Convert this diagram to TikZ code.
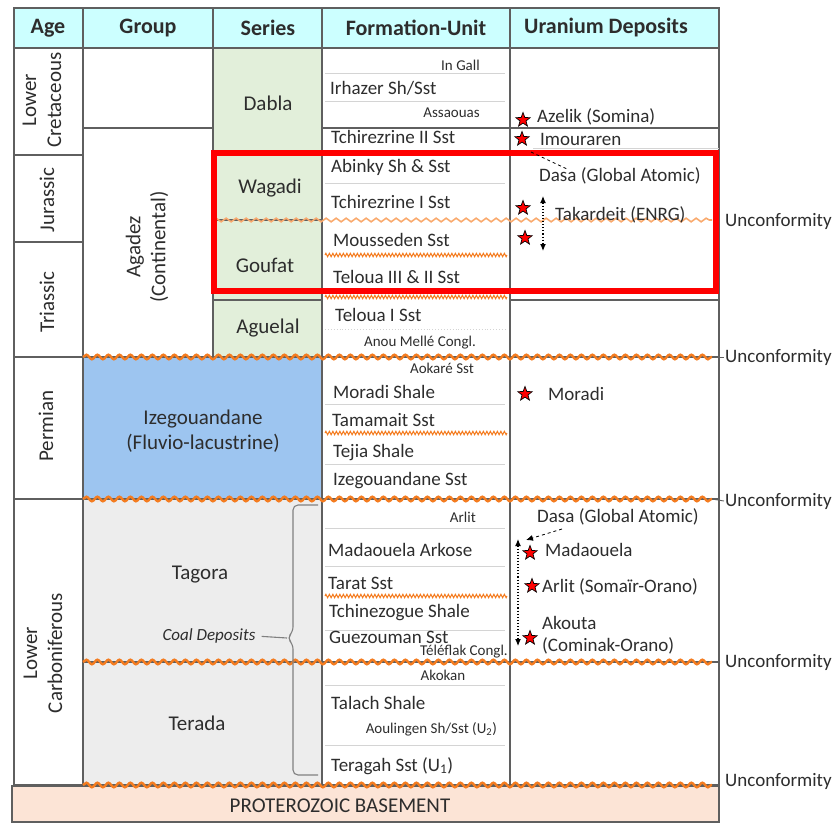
\documentclass[tikz,border=0pt]{standalone}
\usepackage{fontspec}
\setmainfont{Carlito}
\usetikzlibrary{shapes.geometric,arrows,arrows.meta,positioning,decorations.pathmorphing}
\definecolor{hdrcyan}{RGB}{204,255,255}
\definecolor{sergreen}{RGB}{226,239,218}
\definecolor{izeblue}{RGB}{157,197,240}
\definecolor{taggray}{RGB}{237,237,237}
\definecolor{basepeach}{RGB}{252,228,214}
\definecolor{uncorange}{RGB}{244,124,32}
\definecolor{unclight}{RGB}{249,170,110}
\definecolor{gridgray}{RGB}{95,95,95}
\definecolor{rowgray}{RGB}{212,212,212}
\definecolor{bracegray}{RGB}{128,128,128}
\definecolor{inkgray}{RGB}{45,45,45}

\tikzset{
  hdr/.style={font=\fontsize{22}{25}\selectfont\bfseries, inner sep=0pt, text=inkgray},
  big/.style={font=\fontsize{21}{25}\selectfont, inner sep=0pt, text=inkgray},
  reg/.style={font=\fontsize{19}{22}\selectfont, inner sep=0pt, text=inkgray},
  sml/.style={font=\fontsize{15}{17}\selectfont, inner sep=0pt, text=inkgray},
  grid/.style={draw=gridgray, line width=1.2pt},
  rowline/.style={draw=rowgray, line width=0.9pt},
  uncwave/.style={draw=uncorange, line width=2.4pt, decorate,
    decoration={snake, segment length=11pt, amplitude=2.3pt}},
  uncthin/.style={draw=unclight, line width=1.6pt, decorate,
    decoration={snake, segment length=10pt, amplitude=1.8pt}},
  minorzz/.style={draw=uncorange, line width=1.1pt, decorate,
    decoration={zigzag, segment length=3.5pt, amplitude=1.6pt}},
  deposit/.style={star, star points=5, star point ratio=2.4, minimum size=15pt,
    inner sep=0pt, fill=red, draw=black, line width=0.7pt},
  dblarrow/.style={dotted, line width=1.1pt,
    {Latex[length=7pt,width=6pt]}-{Latex[length=7pt,width=6pt]}},
  onearrow/.style={dashed, line width=0.8pt, -{Latex[length=7pt,width=6pt]}},
}

\begin{document}
\begin{tikzpicture}[x=1pt,y=-1pt]
\useasboundingbox (0,0) rectangle (836,825);

\fill[hdrcyan] (14,8) rectangle (719,48);
\fill[sergreen] (213,48) rectangle (322,357);
\fill[izeblue] (83,357) rectangle (322,499);
\fill[taggray] (83,499) rectangle (322,785);
\filldraw[fill=basepeach, draw=gridgray, line width=1.2pt] (12,786) rectangle (719,822);

\draw[grid] (14,8) rectangle (719,785);
\draw[grid] (14,48) -- (719,48);
\foreach \x/\ya/\yb in {83/8/785, 213/8/357, 322/8/785, 510/8/785}
  \draw[grid] (\x,\ya) -- (\x,\yb);
\foreach \y/\xa/\xb in {155/14/83, 242/14/83, 357/14/719, 499/14/719, 128/83/213,
  128/322/719, 300/213/322, 300/510/719, 220/213/322, 662/83/719}
  \draw[grid] (\xa,\y) -- (\xb,\y);
\draw[rowline] (533,148) -- (719,148);
\foreach \y in {73,101,183,404,464,528,566,630,685,745}
  \draw[rowline] (325,\y) -- (505,\y);
\draw[rowline, dotted] (325,329) -- (505,329);

\foreach \y in {357,499,662,785}
  \draw[uncwave] (83,\y) -- (712,\y);
\draw[uncthin] (213,220) -- (712,220);
\foreach \y in {255,297,433,596}
  \draw[minorzz] (325,\y) -- (507,\y);

\draw[red, line width=6.5pt] (214,153) rectangle (716,291);

\node[hdr] (hAge) at (48,28) {Age};
\node[hdr] (hGroup) at (148,28) {Group};
\node[hdr] (hSeries) at (268,28) {Series};
\node[hdr] (hForm) at (416,28) {Formation-Unit};
\node[hdr] (hUran) at (606,28) {Uranium Deposits};

\node[big, rotate=90, align=center] (aCret) at (42,100) {Lower\\Cretaceous};
\node[big, rotate=90] (aJur) at (47,200) {Jurassic};
\node[big, rotate=90] (aTri) at (47,302) {Triassic};
\node[big, rotate=90] (aPerm) at (46,426) {Permian};
\node[big, rotate=90, align=center] (aCarb) at (43,653) {Lower\\Carboniferous};

\node[big, rotate=90, align=center] (gAgadez) at (147,247) {Agadez\\(Continental)};
\node[big, align=center] (gIzeg) at (203,431) {Izegouandane\\(Fluvio-lacustrine)};
\node[big] (gTagora) at (200,575) {Tagora};
\node[font=\fontsize{17}{20}\selectfont\itshape, inner sep=0pt, text=inkgray] (coal) at (209,636) {Coal Deposits};
\node[big] (gTerada) at (197,723) {Terada};

\node[big] (sDabla) at (268,103) {Dabla};
\node[big] (sWagadi) at (270,188) {Wagadi};
\node[big] (sGoufat) at (265,265) {Goufat};
\node[big] (sAguelal) at (268,328) {Aguelal};

\node[sml, anchor=east] (fInGall) at (480,65) {In Gall};
\node[reg, anchor=west] (fIrhazer) at (330,88) {Irhazer Sh/Sst};
\node[sml, anchor=east] (fAssaouas) at (480,113) {Assaouas};
\node[reg, anchor=west] (fTchTwo) at (331,137) {Tchirezrine II Sst};
\node[reg, anchor=west] (fAbinky) at (331,167) {Abinky Sh \& Sst};
\node[reg, anchor=west] (fTchOne) at (331,202) {Tchirezrine I Sst};
\node[reg, anchor=west] (fMousseden) at (333,240) {Mousseden Sst};
\node[reg, anchor=west] (fTelThree) at (333,277) {Teloua III \& II Sst};
\node[reg, anchor=west] (fTelOne) at (335,315) {Teloua I Sst};
\node[sml] (fAnou) at (420,343) {Anou Mellé Congl.};
\node[sml] (fAokare) at (442,368) {Aokaré Sst};
\node[reg, anchor=west] (fMoradi) at (333,392) {Moradi Shale};
\node[reg, anchor=west] (fTamamait) at (332,420) {Tamamait Sst};
\node[reg, anchor=west] (fTejia) at (333,453) {Tejia Shale};
\node[reg, anchor=west] (fIzeg) at (333,481) {Izegouandane Sst};
\node[sml, anchor=east] (fArlit) at (476,517) {Arlit};
\node[reg, anchor=west] (fMadaouela) at (328,550) {Madaouela Arkose};
\node[reg, anchor=west] (fTarat) at (328,583) {Tarat Sst};
\node[reg, anchor=west] (fTchinez) at (329,613) {Tchinezogue Shale};
\node[reg, anchor=west] (fGuez) at (329,637) {Guezouman Sst};
\node[sml, anchor=east] (fTeleflak) at (508,652) {Téléflak Congl.};
\node[sml] (fAkokan) at (443,675) {Akokan};
\node[reg, anchor=west] (fTalach) at (331,703) {Talach Shale};
\node[sml, anchor=east] (fAoulingen) at (497,729) {Aoulingen Sh/Sst (U\textsubscript{2})};
\node[reg, anchor=west] (fTeragah) at (331,766) {Teragah Sst (U\textsubscript{1})};

\node[deposit] (sAzelik) at (523,120) {};
\node[deposit] (sImour) at (522,139) {};
\node[deposit] (sTakA) at (523,208) {};
\node[deposit] (sTakB) at (525,238) {};
\node[deposit] (sMoradi) at (525,394) {};
\node[deposit] (sMadaouela) at (530,553) {};
\node[deposit] (sArlit) at (532,586) {};
\node[deposit] (sAkouta) at (530,638) {};

\node[reg, anchor=west] (uAzelik) at (537,117) {Azelik (Somina)};
\node[reg, anchor=west] (uImour) at (540,139) {Imouraren};
\node[reg, anchor=west] (uDasaA) at (539,176) {Dasa (Global Atomic)};
\node[reg, anchor=west] (uTak) at (555,215) {Takardeit (ENRG)};
\node[reg, anchor=west] (uMoradi) at (548,394) {Moradi};
\node[reg, anchor=west] (uDasaB) at (537,517) {Dasa (Global Atomic)};
\node[reg, anchor=west] (uMadaouela) at (545,550) {Madaouela};
\node[reg, anchor=west] (uArlit) at (542,587) {Arlit (Somaïr-Orano)};
\node[reg, anchor=west] (uAkouta) at (542,623) {Akouta};
\node[reg, anchor=west] (uCominak) at (542,646) {(Cominak-Orano)};

\coordinate (dasaAfrom) at (531,152);
\coordinate (dasaAto) at (567,169);
\draw[dashed, line width=0.8pt] (dasaAfrom) -- (dasaAto);
\coordinate (takTop) at (543,196);
\coordinate (takBot) at (543,251);
\draw[dblarrow] (takTop) -- (takBot);
\coordinate (dasaBfrom) at (562,529);
\coordinate (dasaBto) at (526,540);
\draw[onearrow] (dasaBfrom) -- (dasaBto);
\coordinate (carbTop) at (518,539);
\coordinate (carbBot) at (518,646);
\draw[dblarrow] (carbTop) -- (carbBot);

\coordinate (brTip) at (287,638);
\draw[bracegray, line width=1.1pt, rounded corners=5pt]
  (318,505) -- (293,505) -- (293,632) -- (brTip) -- (293,644) -- (293,775) -- (318,775);
\draw[bracegray, line width=1.1pt, shorten <=6pt] (coal.east) -- (brTip);

\node[reg, anchor=west] (unc1) at (725,221) {Unconformity};
\node[reg, anchor=west] (unc2) at (725,357) {Unconformity};
\node[reg, anchor=west] (unc3) at (725,501) {Unconformity};
\node[reg, anchor=west] (unc4) at (725,662) {Unconformity};
\node[reg, anchor=west] (unc5) at (725,781) {Unconformity};
\coordinate (wTwoEnd) at (712,357);
\coordinate (wThreeEnd) at (712,499);
\draw[gridgray, line width=0.9pt] (wTwoEnd) -- ([xshift=-1pt]unc2.west);
\draw[gridgray, line width=0.9pt] (wThreeEnd) -- ([xshift=-1pt]unc3.west);

\node[big] (base) at (340,806) {PROTEROZOIC BASEMENT};
\end{tikzpicture}
\end{document}
